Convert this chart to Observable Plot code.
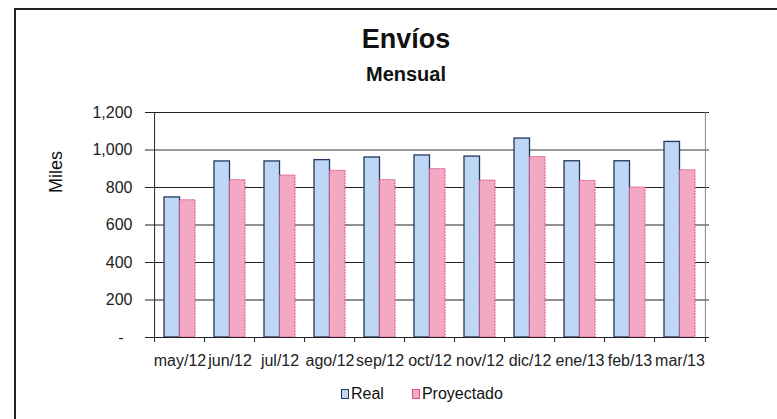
<!DOCTYPE html>
<html>
<head>
<meta charset="utf-8">
<script src="https://cdn.jsdelivr.net/npm/d3@7"></script>
<script src="https://cdn.jsdelivr.net/npm/@observablehq/plot@0.6"></script>
<style>
  html, body { margin: 0; padding: 0; background: #fff; }
  #wrap { position: relative; width: 777px; height: 419px; overflow: hidden; font-family: "Liberation Sans", Arial, sans-serif; color: #111; }
  #border { position: absolute; left: 14px; top: 8px; width: 800px; height: 420px; border-left: 2px solid #222; border-top: 2px solid #222; }
  #title { position: absolute; left: 0; width: 812px; top: 24px; text-align: center; font-weight: bold; font-size: 27px; }
  #subtitle { position: absolute; left: 0; width: 812px; top: 63px; text-align: center; font-weight: bold; font-size: 20px; }
  #ylabel { position: absolute; left: 56px; top: 172px; transform: translate(-50%, -50%) rotate(-90deg); font-size: 18px; white-space: nowrap; }
  #legend { position: absolute; left: 341px; top: 385px; font-size: 16px; display: flex; align-items: center; white-space: nowrap; }
  .sw { display: inline-block; width: 6px; height: 8px; margin-right: 2px; }
  #plot { position: absolute; left: 0; top: 0; }
</style>
</head>
<body>
<div id="wrap">
  <div id="border"></div>
  <div id="title">Envíos</div>
  <div id="subtitle">Mensual</div>
  <div id="ylabel">Miles</div>
  <div id="plot"></div>
  <div id="legend"></div>
</div>
<script>
const months = ["may/12","jun/12","jul/12","ago/12","sep/12","oct/12","nov/12","dic/12","ene/13","feb/13","mar/13"];
const real = [747, 939, 939, 946, 960, 971, 965, 1061, 940, 940, 1043];
const proyectado = [732, 839, 864, 889, 839, 898, 837, 962, 835, 800, 892];
const seriesNames = ["Real", "Proyectado"];
const yTicks = [0, 200, 400, 600, 800, 1000, 1200];
const fills = {Real: "#bdd7f4", Proyectado: "#f3a8c4"};
const strokes = {Real: "#25365f", Proyectado: "#de4f8c"};

const data = [];
months.forEach((m, i) => {
  data.push({month: m, series: "Real", value: real[i]});
  data.push({month: m, series: "Proyectado", value: proyectado[i]});
});

const W = 777, H = 419, mL = 150, mR = 68, mT = 112, mB = 82;
const pInner = 0.39;
const step = (W - mL - mR) / months.length;
const bw = step * (1 - pInner);
const fmt = d3.format(",");

const chart = Plot.plot({
  width: W, height: H,
  marginLeft: mL, marginRight: mR, marginTop: mT, marginBottom: mB,
  style: {fontFamily: "'Liberation Sans', Arial, sans-serif", fontSize: "16px", color: "#222", background: "transparent"},
  x: {domain: months, paddingInner: pInner, paddingOuter: pInner / 2, label: null},
  y: {domain: [0, 1200], label: null},
  marks: [
    Plot.ruleY(yTicks.filter(d => d > 0), {stroke: d => d === 1000 ? "#777" : "#222", strokeWidth: d => d === 1000 ? 1.6 : 1}),
    Plot.barY(data.filter(d => d.series === "Real"), {x: "month", y: "value", fill: fills.Real, stroke: strokes.Real, strokeWidth: 1.3, insetRight: bw / 2}),
    Plot.barY(data.filter(d => d.series === "Proyectado"), {x: "month", y: "value", fill: fills.Proyectado, stroke: strokes.Proyectado, strokeWidth: 1, strokeDasharray: "2,1", insetLeft: bw / 2}),
    Plot.ruleY([0], {stroke: "#222"}),
    // category boundary ticks
    Plot.ruleX(months, {x: d => d, y1: 0, y2: 0, dx: -step / 2, insetBottom: -5, stroke: "#222"}),
    Plot.ruleX([months[months.length - 1]], {x: d => d, y1: 0, y2: 0, dx: step / 2, insetBottom: -5, stroke: "#222"}),
    // left axis line and right frame
    Plot.ruleX([months[0]], {x: d => d, y1: 0, y2: 1200, dx: -step / 2, stroke: "#222"}),
    Plot.ruleX([months[months.length - 1]], {x: d => d, y1: 0, y2: 1200, dx: step / 2, stroke: "#888"}),
    Plot.axisY({ticks: yTicks, tickSize: 5, tickPadding: 13, fontSize: 16, stroke: "#222",
      tickFormat: d => d === 0 ? "-\u00a0\u00a0" : fmt(d), label: null}),
    Plot.axisX({tickSize: 0, tickPadding: 17, fontSize: 16, label: null})
  ]
});
document.getElementById("plot").appendChild(chart);

const legend = document.getElementById("legend");
seriesNames.forEach((s, i) => {
  const item = document.createElement("span");
  item.style.display = "inline-flex";
  item.style.alignItems = "center";
  item.style.marginRight = i === 0 ? "28px" : "0";
  const sw = document.createElement("span");
  sw.className = "sw";
  sw.style.background = fills[s];
  sw.style.border = "1px solid " + strokes[s];
  item.appendChild(sw);
  item.appendChild(document.createTextNode(s));
  legend.appendChild(item);
});
</script>
</body>
</html>
